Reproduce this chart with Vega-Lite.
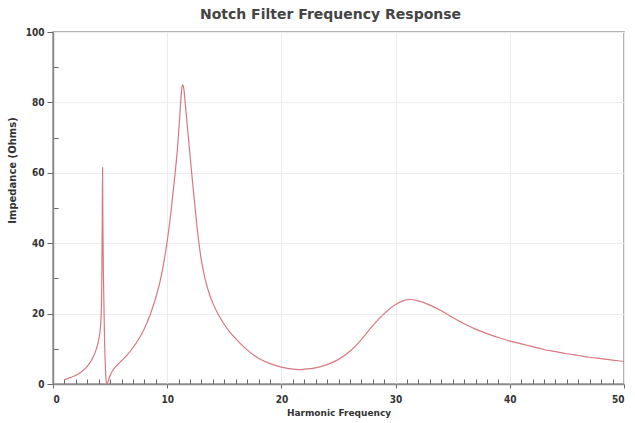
{
  "$schema": "https://vega.github.io/schema/vega-lite/v6.json",
  "autosize": {"type": "none"},
  "width": 571,
  "height": 352,
  "padding": {"left": 53, "top": 32, "right": 11, "bottom": 39},
  "background": "white",
  "config": {
    "view": {"stroke": "#9a9a9a", "strokeWidth": 1.5},
    "font": "DejaVu Sans Condensed"
  },
  "title": {
    "text": "Notch Filter Frequency Response",
    "fontSize": 14,
    "fontWeight": "bold",
    "font": "DejaVu Sans",
    "color": "#444444",
    "offset": 5,
    "dx": -8
  },
  "data": {
    "values": [
      {"f": 1.0, "z": 1.2}, {"f": 1.5, "z": 1.8}, {"f": 2.0, "z": 2.5}, {"f": 2.5, "z": 3.5},
      {"f": 3.0, "z": 5.0}, {"f": 3.5, "z": 7.5}, {"f": 3.8, "z": 10}, {"f": 4.0, "z": 12.5},
      {"f": 4.15, "z": 16}, {"f": 4.22, "z": 20}, {"f": 4.27, "z": 28}, {"f": 4.31, "z": 45},
      {"f": 4.34, "z": 61.5}, {"f": 4.37, "z": 45}, {"f": 4.42, "z": 30}, {"f": 4.5, "z": 15},
      {"f": 4.6, "z": 4}, {"f": 4.68, "z": 0.3}, {"f": 4.75, "z": 0}, {"f": 4.85, "z": 1.0},
      {"f": 5.0, "z": 2.4}, {"f": 5.3, "z": 4.2}, {"f": 5.6, "z": 5.3}, {"f": 6.0, "z": 6.6},
      {"f": 6.5, "z": 8.3}, {"f": 7.0, "z": 10.3}, {"f": 7.5, "z": 12.7}, {"f": 8.0, "z": 15.7},
      {"f": 8.5, "z": 19.6}, {"f": 9.0, "z": 24.5}, {"f": 9.4, "z": 29.5}, {"f": 9.7, "z": 34.5},
      {"f": 10.0, "z": 40.5}, {"f": 10.3, "z": 48}, {"f": 10.6, "z": 57}, {"f": 10.9, "z": 67},
      {"f": 11.1, "z": 76}, {"f": 11.2, "z": 81}, {"f": 11.3, "z": 84.5}, {"f": 11.37, "z": 85},
      {"f": 11.47, "z": 83.5}, {"f": 11.6, "z": 79}, {"f": 11.8, "z": 72}, {"f": 12.0, "z": 65},
      {"f": 12.2, "z": 58}, {"f": 12.4, "z": 51.5}, {"f": 12.6, "z": 45}, {"f": 12.8, "z": 39.5},
      {"f": 13.0, "z": 35}, {"f": 13.2, "z": 31.6}, {"f": 13.4, "z": 28.8}, {"f": 13.7, "z": 25.5},
      {"f": 14.0, "z": 22.9}, {"f": 14.5, "z": 19.6}, {"f": 15.0, "z": 16.9}, {"f": 15.5, "z": 14.7},
      {"f": 16.0, "z": 12.9}, {"f": 16.5, "z": 11.2}, {"f": 17.0, "z": 9.7}, {"f": 17.5, "z": 8.4},
      {"f": 18.0, "z": 7.3}, {"f": 19.0, "z": 5.8}, {"f": 20.0, "z": 4.8}, {"f": 21.0, "z": 4.2},
      {"f": 21.5, "z": 4.1}, {"f": 22.0, "z": 4.2}, {"f": 23.0, "z": 4.6}, {"f": 24.0, "z": 5.5},
      {"f": 25.0, "z": 7.0}, {"f": 26.0, "z": 9.3}, {"f": 27.0, "z": 12.6}, {"f": 28.0, "z": 16.6},
      {"f": 29.0, "z": 20.0}, {"f": 30.0, "z": 22.6}, {"f": 30.7, "z": 23.7}, {"f": 31.3, "z": 24.0},
      {"f": 32.0, "z": 23.6}, {"f": 33.0, "z": 22.4}, {"f": 34.0, "z": 20.8}, {"f": 35.0, "z": 18.9},
      {"f": 36.0, "z": 17.1}, {"f": 37.0, "z": 15.6}, {"f": 38.0, "z": 14.3}, {"f": 39.0, "z": 13.2},
      {"f": 40.0, "z": 12.2}, {"f": 41.0, "z": 11.4}, {"f": 42.0, "z": 10.6}, {"f": 43.0, "z": 9.8},
      {"f": 44.0, "z": 9.2}, {"f": 45.0, "z": 8.6}, {"f": 46.0, "z": 8.1}, {"f": 47.0, "z": 7.6},
      {"f": 48.0, "z": 7.2}, {"f": 49.0, "z": 6.8}, {"f": 50.0, "z": 6.4}
    ]
  },
  "layer": [
    {
      "mark": {"type": "line", "strokeOpacity": 0},
      "encoding": {
        "x": {
          "field": "f", "type": "quantitative",
          "scale": {"domain": [0, 50], "nice": false, "zero": false},
          "axis": {
            "orient": "bottom", "offset": -5,
            "values": [1,2,3,4,5,6,7,8,9,11,12,13,14,15,16,17,18,19,21,22,23,24,25,26,27,28,29,31,32,33,34,35,36,37,38,39,41,42,43,44,45,46,47,48,49],
            "tickSize": 5, "tickColor": "#666666", "tickWidth": 1,
            "labels": false, "domain": false, "grid": false, "title": null
          }
        },
        "y": {
          "field": "z", "type": "quantitative",
          "scale": {"domain": [0, 100], "nice": false},
          "axis": {
            "orient": "left", "offset": -5,
            "values": [10, 30, 50, 70, 90],
            "tickSize": 5, "tickColor": "#666666", "tickWidth": 1,
            "labels": false, "domain": false, "grid": false, "title": null
          }
        }
      }
    },
    {
      "mark": {"type": "line", "color": "#d97880", "strokeWidth": 1.2, "interpolate": "monotone"},
      "encoding": {
        "x": {
          "field": "f", "type": "quantitative",
          "scale": {"domain": [0, 50], "nice": false, "zero": false},
          "axis": {
            "orient": "bottom",
            "values": [0, 10, 20, 30, 40, 50],
            "format": "d",
            "tickSize": 4, "tickColor": "#666666",
            "domainColor": "#8a8a8a", "domainWidth": 1.5,
            "grid": true, "gridColor": "#ececec",
            "labelFont": "DejaVu Sans Condensed", "labelFontWeight": "bold",
            "labelFontSize": 10, "labelColor": "#333333", "labelPadding": 6,
            "title": "Harmonic Frequency",
            "titleFont": "DejaVu Sans", "titleFontWeight": "bold",
            "titleFontSize": 9, "titleColor": "#333333", "titlePadding": 4
          }
        },
        "y": {
          "field": "z", "type": "quantitative",
          "scale": {"domain": [0, 100], "nice": false},
          "axis": {
            "orient": "left",
            "values": [0, 20, 40, 60, 80, 100],
            "tickSize": 6, "tickColor": "#666666",
            "domainColor": "#8a8a8a", "domainWidth": 1.5,
            "grid": true, "gridColor": "#ececec",
            "labelFont": "DejaVu Sans Condensed", "labelFontWeight": "bold",
            "labelFontSize": 10, "labelColor": "#333333", "labelPadding": 3,
            "title": "Impedance (Ohms)",
            "titleFont": "DejaVu Sans", "titleFontWeight": "bold",
            "titleFontSize": 10, "titleColor": "#333333",
            "titleX": -36, "titleY": 138, "titleAngle": -90
          }
        }
      }
    }
  ],
  "resolve": {"axis": {"x": "independent", "y": "independent"}}
}
